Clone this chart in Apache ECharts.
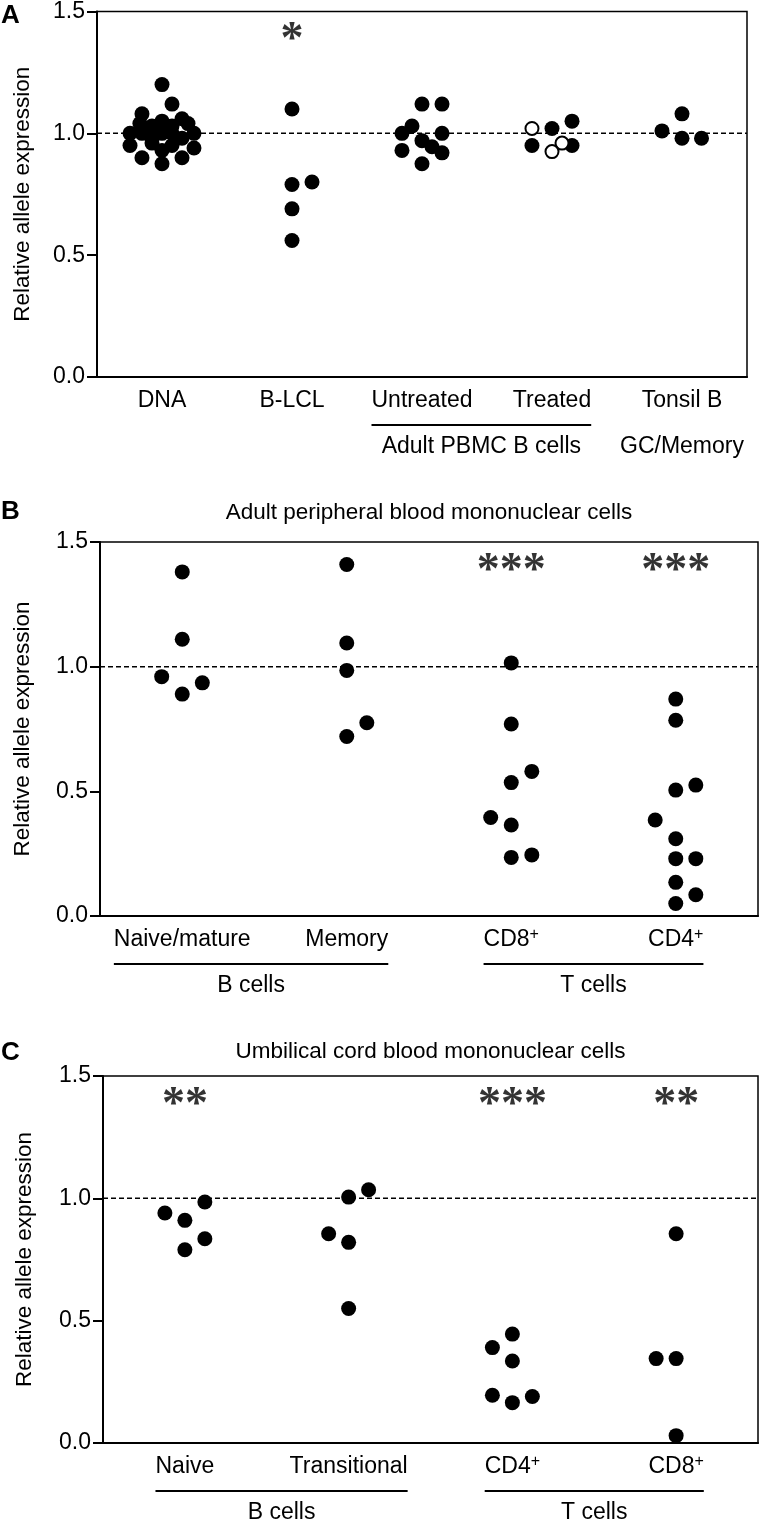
<!DOCTYPE html>
<html><head><meta charset="utf-8">
<script src="https://cdn.jsdelivr.net/npm/echarts@6/dist/echarts.min.js"></script>
<style>html,body{margin:0;padding:0;background:#fff}#c{width:760px;height:1530px}</style>
</head><body><div id="c"></div>
<script>
// ---------- DATA (each point: [horizontal jitter in category units, value]) ----------
const yTickValues = [0, 0.5, 1.0, 1.5];
const refValue = 1.0;
const sigHeight = 1.41;

// Panel A
const catsA = ['DNA', 'B-LCL', 'Untreated', 'Treated', 'Tonsil B'];
const sigA = ['', '*', '', '', ''];
const A_DNA = [[0,1.20],[0.077,1.12],[-0.154,1.08],[0.154,1.06],[0,1.05],[-0.17,1.04],[0.2,1.04],[-0.077,1.03],[0.077,1.03],
  [-0.246,1.00],[-0.154,1.00],[0,1.00],[0.077,1.00],[0.246,1.00],[-0.077,0.98],[0.154,0.98],[-0.246,0.95],[0.246,0.94],
  [-0.077,0.96],[0.077,0.95],[0,0.93],[-0.154,0.90],[0.154,0.90],[0,0.875]];
const A_BLCL = [[0,1.10],[0,0.79],[0.154,0.80],[0,0.69],[0,0.56]];
const A_Untreated = [[0,1.12],[0.154,1.12],[-0.077,1.03],[-0.154,1.00],[0.154,1.00],[0,0.97],[0.077,0.945],[-0.154,0.93],[0.154,0.92],[0,0.875]];
const A_TreatedFilled = [[0,1.02],[0.154,1.05],[-0.154,0.95],[0.154,0.95]];
const A_TreatedOpen = [[-0.154,1.02],[0.077,0.96],[0,0.925]];
const A_Tonsil = [[-0.154,1.01],[0,1.08],[0,0.98],[0.15,0.98]];
const groupsA = [{text:'Adult PBMC B cells', from:2, to:3, line:true}, {text:'GC/Memory', from:4, to:4, line:false}];

// Panel B
const titleB = 'Adult peripheral blood mononuclear cells';
const catsB = ['Naive/mature', 'Memory', 'CD8+', 'CD4+'];
const sigB = ['', '', '***', '***'];
const B_Naive = [[0,1.38],[0,1.11],[-0.125,0.96],[0.122,0.935],[0,0.89]];
const B_Memory = [[0,1.41],[0,1.095],[0,0.985],[0.122,0.775],[0,0.72]];
const B_CD8 = [[0,1.015],[0,0.77],[0.125,0.58],[0,0.535],[-0.125,0.395],[0,0.365],[0,0.235],[0.125,0.245]];
const B_CD4 = [[0,0.87],[0,0.785],[0,0.505],[0.122,0.525],[-0.125,0.385],[0,0.31],[0,0.23],[0.122,0.23],[0,0.135],[0.122,0.085],[0,0.05]];
const groupsB = [{text:'B cells', from:0, to:1, line:true}, {text:'T cells', from:2, to:3, line:true}];

// Panel C
const titleC = 'Umbilical cord blood mononuclear cells';
const catsC = ['Naive', 'Transitional', 'CD4+', 'CD8+'];
const sigC = ['**', '', '***', '**'];
const C_Naive = [[-0.122,0.94],[0,0.91],[0.122,0.985],[0,0.79],[0.122,0.835]];
const C_Trans = [[0,1.005],[0.122,1.035],[-0.122,0.855],[0,0.82],[0,0.55]];
const C_CD4 = [[0,0.445],[-0.122,0.39],[0,0.335],[-0.122,0.195],[0,0.165],[0.122,0.19]];
const C_CD8 = [[0,0.855],[-0.122,0.345],[0,0.345],[0,0.03]];
const groupsC = [{text:'B cells', from:0, to:1, line:true}, {text:'T cells', from:2, to:3, line:true}];

// ---------- LAYOUT / STYLE ----------
const FONT = '"Liberation Sans", Arial, Helvetica, sans-serif';
const FS = 23;
const panels = [
  {letter:'A', letterY:16, title:'', titleY:0, cats:catsA, sig:sigA,
   filled:[A_DNA, A_BLCL, A_Untreated, A_TreatedFilled, A_Tonsil], open:[[],[],[],A_TreatedOpen,[]],
   groups:groupsA, grid:{left:97, top:8, width:650, height:369}, nameGap:63},
  {letter:'B', letterY:512, title:titleB, titleY:513, cats:catsB, sig:sigB,
   filled:[B_Naive, B_Memory, B_CD8, B_CD4], open:[[],[],[],[]],
   groups:groupsB, grid:{left:100, top:542, width:658, height:374}, nameGap:66},
  {letter:'C', letterY:1053, title:titleC, titleY:1052, cats:catsC, sig:sigC,
   filled:[C_Naive, C_Trans, C_CD4, C_CD8], open:[[],[],[],[]],
   groups:groupsC, grid:{left:103, top:1076, width:655, height:367}, nameGap:67}
];

function catFormatter(v){
  return v.endsWith('+') ? '{b|' + v.slice(0,-1) + '}{sup|+}' : '{b|' + v + '}';
}
const rich = {
  b: {fontSize: FS, fontFamily: FONT, color:'#000', lineHeight: 26},
  sup: {fontSize: 16, fontFamily: FONT, color:'#000', lineHeight: 16, verticalAlign:'top'}
};

const grids = [], xAxes = [], yAxes = [], series = [];
panels.forEach((p, pi) => {
  const n = p.cats.length;
  grids.push(Object.assign({show:true, borderColor:'#000', borderWidth:1.5, backgroundColor:'transparent'}, p.grid));
  xAxes.push({type:'category', gridIndex:pi, data:p.cats, boundaryGap:true,
    axisLine:{show:true, onZero:false, lineStyle:{color:'#000', width:2}}, axisTick:{show:false},
    axisLabel:{margin:11, interval:0, formatter:catFormatter, rich:rich}, splitLine:{show:false}});
  xAxes.push({type:'value', gridIndex:pi, min:-0.5, max:n-0.5, show:false});
  yAxes.push({type:'value', gridIndex:pi, min:yTickValues[0], max:yTickValues[yTickValues.length-1], interval:0.5,
    axisLine:{show:true, onZero:false, lineStyle:{color:'#000', width:2}},
    axisTick:{show:true, length:10, lineStyle:{color:'#000', width:2}},
    axisLabel:{color:'#000', fontSize:FS, fontFamily:FONT, margin:12, formatter:v => v.toFixed(1)},
    splitLine:{show:false},
    name:'Relative allele expression', nameLocation:'middle', nameRotate:90, nameGap:p.nameGap,
    nameTextStyle:{color:'#000', fontSize:22.5, fontFamily:FONT}});
  const xi = 2*pi + 1;
  // reference dashed line
  series.push({type:'line', xAxisIndex:xi, yAxisIndex:pi, data:[[-0.5, refValue],[n-0.5, refValue]],
    showSymbol:false, silent:true, z:1, lineStyle:{color:'#000', width:1.5, type:[5,3]}});
  const filled = [], open = [];
  p.filled.forEach((arr, i) => arr.forEach(([dx, v]) => filled.push([i + dx, v])));
  p.open.forEach((arr, i) => arr.forEach(([dx, v]) => open.push([i + dx, v])));
  series.push({type:'scatter', xAxisIndex:xi, yAxisIndex:pi, data:filled, symbol:'circle', symbolSize:15,
    itemStyle:{color:'#000', opacity:1}, z:3, clip:false, silent:true});
  if (open.length) series.push({type:'scatter', xAxisIndex:xi, yAxisIndex:pi, data:open, symbol:'circle', symbolSize:13,
    itemStyle:{color:'#fff', borderColor:'#000', borderWidth:2, opacity:1}, z:4, clip:false, silent:true});
  // significance stars
  const sigData = [];
  p.sig.forEach((s, i) => { if (s) sigData.push({value:[i, sigHeight], name:s}); });
  series.push({type:'scatter', xAxisIndex:xi, yAxisIndex:pi, data:sigData, symbolSize:1,
    itemStyle:{color:'rgba(0,0,0,0)'}, silent:true, z:5,
    label:{show:true, position:'inside', formatter:d => d.name, color:'#000', fontSize:46, fontWeight:'bold',
      fontFamily:'"Liberation Serif", "Times New Roman", serif', offset:[0, 8]}});
});

const chart = echarts.init(document.getElementById('c'), null, {renderer:'canvas', width:760, height:1530});
chart.setOption({animation:false, backgroundColor:'#fff', grid:grids, xAxis:xAxes, yAxis:yAxes, series:series});

// ---------- annotations positioned through the axes ----------
const mctx = document.createElement('canvas').getContext('2d');
function labelWidth(t){
  if (t.endsWith('+')) {
    mctx.font = FS + 'px ' + FONT; const w1 = mctx.measureText(t.slice(0,-1)).width;
    mctx.font = '16px ' + FONT; return w1 + mctx.measureText('+').width;
  }
  mctx.font = FS + 'px ' + FONT; return mctx.measureText(t).width;
}
const els = [];
panels.forEach((p, pi) => {
  const xi = 2*pi + 1;
  const axisY = chart.convertToPixel({yAxisIndex:pi}, 0);
  const mid = p.grid.left + p.grid.width/2;
  els.push({type:'text', style:{text:p.letter, x:1, y:p.letterY, font:'bold 26px ' + FONT, fill:'#000',
    align:'left', verticalAlign:'middle', textAlign:'left', textVerticalAlign:'middle'}});
  if (p.title) els.push({type:'text', style:{text:p.title, x:mid, y:p.titleY, font:'22.5px ' + FONT, fill:'#000',
    align:'center', verticalAlign:'middle', textAlign:'center', textVerticalAlign:'middle'}});
  p.groups.forEach(gr => {
    const c0 = chart.convertToPixel({xAxisIndex:xi}, gr.from);
    const c1 = chart.convertToPixel({xAxisIndex:xi}, gr.to);
    const x0 = c0 - labelWidth(p.cats[gr.from])/2;
    const x1 = c1 + labelWidth(p.cats[gr.to])/2;
    const cx = gr.line ? (x0 + x1)/2 : (c0 + c1)/2;
    if (gr.line) els.push({type:'line', shape:{x1:x0, y1:axisY+48, x2:x1, y2:axisY+48}, style:{stroke:'#000', lineWidth:2}});
    els.push({type:'text', style:{text:gr.text, x:cx, y:axisY+70, font:FS + 'px ' + FONT, fill:'#000',
      align:'center', verticalAlign:'middle', textAlign:'center', textVerticalAlign:'middle'}});
  });
});
chart.setOption({graphic:{elements:els}});
</script></body></html>
